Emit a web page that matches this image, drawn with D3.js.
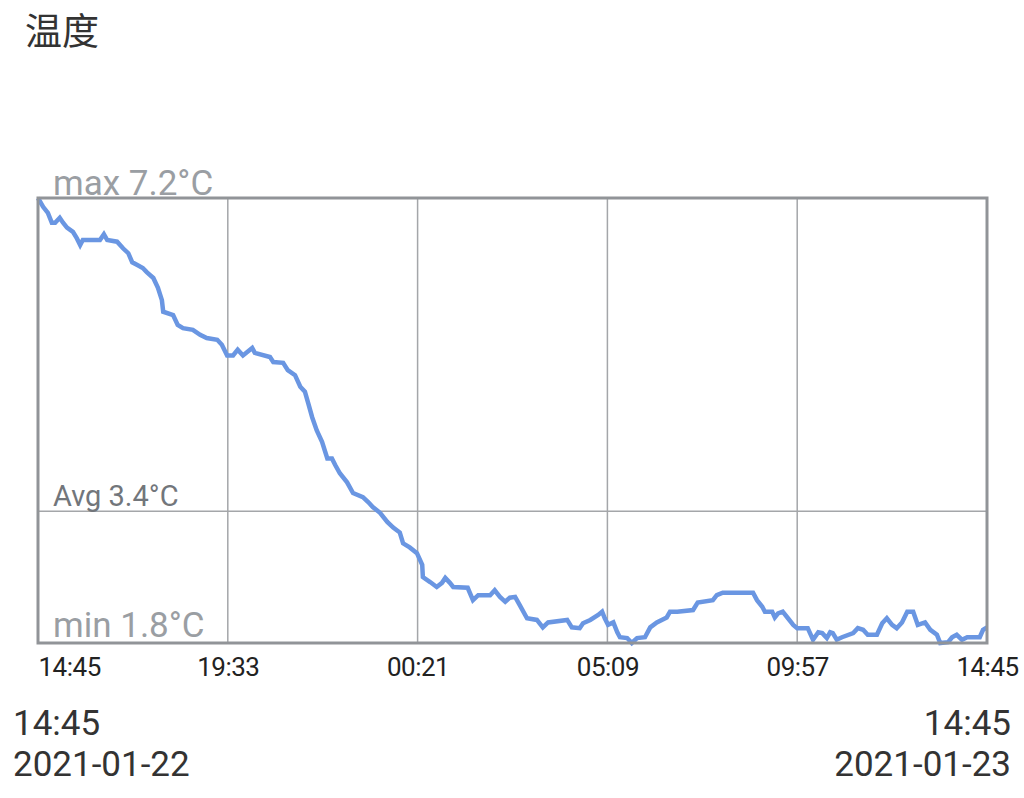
<!DOCTYPE html>
<html>
<head>
<meta charset="utf-8">
<script src="https://cdn.jsdelivr.net/npm/d3@7"></script>
<style>
  body { margin: 0; background: #fff; font-family: Roboto, "Noto Sans CJK SC", sans-serif; }
  svg { display: block; }
</style>
</head>
<body>
<svg id="chart" width="1024" height="798"></svg>
<script>
// minutes after 2021-01-22 14:45, temperature in °C
var minutes = [0,8,15,21,26,33,38,44,53,59,64,68,94,100,105,120,129,137,143,150,159,165,175,182,188,190,205,212,220,235,246,256,272,279,287,296,303,311,325,329,352,357,372,379,390,398,405,410,416,423,431,439,446,451,458,469,478,493,501,508,519,530,539,549,554,564,575,583,584,595,605,613,618,625,630,652,660,668,686,693,701,709,716,724,731,742,757,766,774,803,810,822,827,838,850,856,860,865,873,879,883,894,901,909,921,929,939,954,959,970,994,1001,1024,1030,1039,1085,1091,1099,1103,1114,1118,1123,1130,1138,1146,1152,1168,1176,1184,1190,1197,1202,1206,1212,1220,1237,1244,1252,1259,1273,1281,1288,1296,1303,1311,1319,1328,1335,1346,1354,1364,1369,1381,1387,1394,1402,1410,1429,1434,1440];
var temps = [7.2,7.09,7.02,6.9,6.9,6.96,6.9,6.84,6.79,6.71,6.63,6.69,6.69,6.76,6.69,6.67,6.59,6.53,6.42,6.39,6.35,6.3,6.23,6.11,5.96,5.82,5.78,5.66,5.62,5.6,5.54,5.5,5.48,5.42,5.29,5.29,5.36,5.29,5.38,5.32,5.27,5.21,5.2,5.11,5.05,4.91,4.85,4.71,4.54,4.38,4.24,4.04,4.04,3.96,3.86,3.75,3.62,3.57,3.51,3.45,3.38,3.27,3.2,3.14,3.01,2.96,2.89,2.75,2.6,2.54,2.48,2.53,2.59,2.53,2.48,2.47,2.32,2.38,2.38,2.44,2.36,2.3,2.35,2.36,2.26,2.1,2.08,1.99,2.05,2.08,1.99,1.98,2.04,2.08,2.14,2.18,2.1,2.02,2.05,1.93,1.87,1.86,1.8,1.86,1.87,1.99,2.05,2.11,2.18,2.18,2.2,2.29,2.32,2.38,2.41,2.41,2.32,2.24,2.18,2.18,2.11,2.16,2.18,2.1,2.02,1.98,1.98,1.84,1.93,1.92,1.86,1.93,1.92,1.84,1.87,1.92,1.98,1.96,1.9,1.9,2.04,2.1,2.02,1.98,2.05,2.18,2.18,2.02,2.05,1.96,1.9,1.8,1.81,1.87,1.9,1.84,1.87,1.87,1.96,1.99];
var tick_labels = ['14:45','19:33','00:21','05:09','09:57','14:45'];
var stat_names = ['max','Avg','min'];
var stat_values = [7.2, 3.4, 1.8];
var title = '温度';
var start_time = ['14:45', '2021-01-22'];
var end_time = ['14:45', '2021-01-23'];

var svg = d3.select('#chart');
var t0 = new Date(2021, 0, 22, 14, 45);
var data = minutes.map(function(m, i) { return {date: d3.timeMinute.offset(t0, m), v: temps[i]}; });

var plot_left = 38, plot_right = 987, plot_top = 198, plot_bottom = 643;
var x = d3.scaleTime().domain([t0, d3.timeMinute.offset(t0, 1440)]).range([plot_left, plot_right]);
var y = d3.scaleLinear().domain([stat_values[2], stat_values[0]]).range([plot_bottom, plot_top]);

// title
svg.append('text').attr('x', 25).attr('y', 45)
    .attr('font-size', 37).attr('fill', '#333').text(title);

// vertical grid lines
var tick_dates = tick_labels.map(function(d, i) { return d3.timeMinute.offset(t0, i * 288); });
svg.append('g').selectAll('line').data(tick_dates.slice(1, -1)).enter().append('line')
    .attr('x1', function(d) { return x(d); }).attr('x2', function(d) { return x(d); })
    .attr('y1', plot_top).attr('y2', plot_bottom)
    .attr('stroke', '#a4a6a9').attr('stroke-width', 1.5);

// avg line
svg.append('line').attr('x1', plot_left).attr('x2', plot_right)
    .attr('y1', y(stat_values[1])).attr('y2', y(stat_values[1]))
    .attr('stroke', '#a4a6a9').attr('stroke-width', 1.5);

// data line
var line_func = d3.line().x(function(d) { return x(d.date); }).y(function(d) { return y(d.v); });
svg.append('path')
    .attr('d', line_func(data))
    .attr('stroke', '#6a96e2')
    .attr('stroke-width', 4.5)
    .attr('fill', 'none');

// frame
svg.append('rect').attr('x', plot_left).attr('y', plot_top)
    .attr('width', plot_right - plot_left).attr('height', plot_bottom - plot_top)
    .attr('fill', 'none').attr('stroke', '#919498').attr('stroke-width', 3);

// stat labels
svg.append('g').selectAll('text').data(stat_names).enter().append('text')
    .attr('x', 53)
    .attr('y', function(d, i) { return y(stat_values[i]) + (i == 0 ? -3 : i == 1 ? -5 : -6); })
    .attr('font-size', function(d, i) { return i == 1 ? 29 : 35; })
    .attr('fill', function(d, i) { return i == 1 ? '#72767b' : '#9a9ea3'; })
    .text(function(d, i) { return d + ' ' + stat_values[i] + '°C'; });

// x axis labels
var xAxis = d3.axisBottom(x).tickValues(tick_dates)
    .tickFormat(function(d, i) { return tick_labels[i]; })
    .tickSize(0).tickPadding(15);
var gx = svg.append('g').attr('transform', 'translate(0,' + plot_bottom + ')').call(xAxis);
gx.select('.domain').remove();
gx.selectAll('text').attr('font-size', 26).attr('fill', '#222')
    .attr('font-family', 'Roboto, sans-serif')
    .attr('letter-spacing', -0.5);
gx.select('.tick text').attr('text-anchor', 'start');

// start/end time
var foot = svg.append('g').attr('font-size', 35).attr('fill', '#333');
foot.selectAll('.s').data(start_time).enter().append('text')
    .attr('x', 13).attr('y', function(d, i) { return 735 + i * 41; }).text(function(d) { return d; });
foot.selectAll('.e').data(end_time).enter().append('text')
    .attr('x', 1011).attr('text-anchor', 'end')
    .attr('y', function(d, i) { return 735 + i * 41; }).text(function(d) { return d; });
</script>
</body>
</html>
